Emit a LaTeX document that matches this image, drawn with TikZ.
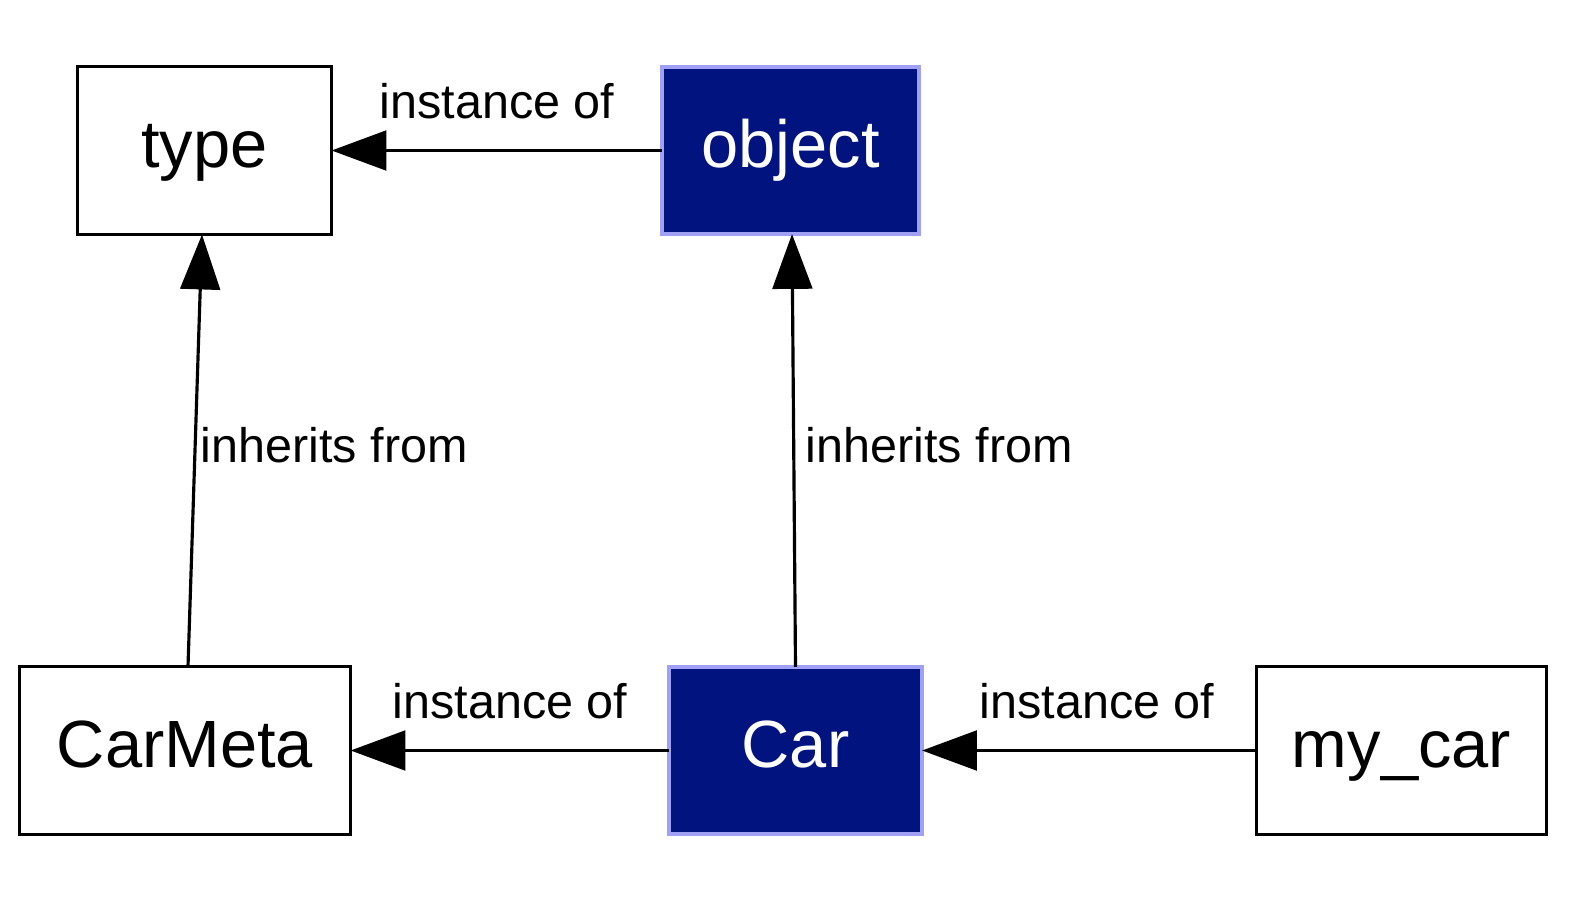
\documentclass[tikz,border=0pt]{standalone}
\usepackage{fontspec}
\setmainfont{Liberation Sans}
\usetikzlibrary{arrows.meta,calc}
\definecolor{navy}{HTML}{00137F}
\definecolor{lavender}{HTML}{A0A0F5}
\begin{document}
\begin{tikzpicture}[x=0.01cm,y=-0.01cm,
  box/.style={draw=black,line width=0.9pt,inner sep=0pt,outer sep=0pt,
    text height=13.6pt,text depth=4pt,font=\fontsize{19}{22}\selectfont},
  plain/.style={box,minimum height=47.8pt},
  hilite/.style={box,minimum height=47.5pt,fill=navy,draw=lavender,line width=1.13pt,text=white},
  edge/.style={line width=0.9pt,-{Triangle[length=15.6pt,width=11.3pt]}},
  lbl/.style={font=\fontsize{13.8}{16}\selectfont,inner sep=0pt}]
\useasboundingbox (0,0) rectangle (1569,900);
\node[plain,minimum width=72.3pt] (type) at (204.5,150.5) {type};
\node[hilite,minimum width=73.1pt] (object) at (790.5,150.5) {object};
\node[plain,minimum width=94.2pt] (carmeta) at (185,750.5) {CarMeta};
\node[hilite,minimum width=72pt] (car) at (795.5,750.5) {Car};
\node[plain,minimum width=82.5pt] (mycar) at (1401.5,750.5) {my\_car};

\draw[edge] (object.west) -- (type.east);
\draw[edge] ($(carmeta.north)+(3,0)$) -- ($(type.south)+(-2.5,0)$);
\draw[edge] (car.north) -- ($(object.south)+(1.5,0)$);
\draw[edge] (car.west) -- (carmeta.east);
\draw[edge] (mycar.west) -- (car.east);

\node[lbl,anchor=base] (l1) at (497,118) {instance of};
\node[lbl,anchor=base west] (l2) at (200,462) {inherits from};
\node[lbl,anchor=base west] (l3) at (805,462) {inherits from};
\node[lbl,anchor=base] (l4) at (510,718) {instance of};
\node[lbl,anchor=base] (l5) at (1097,718) {instance of};
\end{tikzpicture}
\end{document}
